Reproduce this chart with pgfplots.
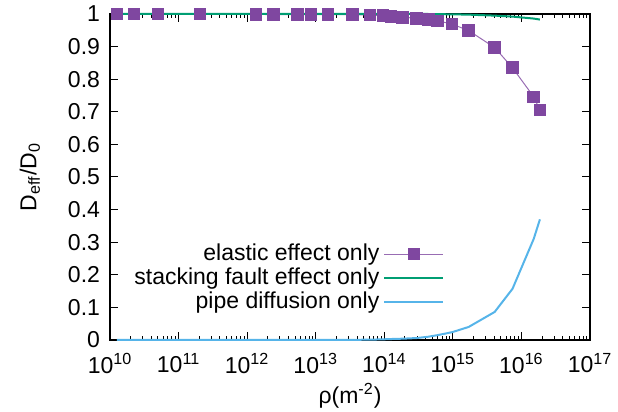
\documentclass[border=0pt]{standalone}
\usepackage{fontspec}
\setmainfont{Liberation Sans}
\usepackage{pgfplots}
\pgfplotsset{compat=1.18}
\definecolor{cpurple}{HTML}{7F47A0}
\definecolor{cgreen}{HTML}{009E73}
\definecolor{cblue}{HTML}{56B4E9}
\begin{document}
\fontsize{11.5}{13.5}\selectfont
\begin{tikzpicture}
\begin{axis}[
  scale only axis,
  width=240pt, height=163pt,
  xmode=log,
  xmin=1e10, xmax=1e17,
  ymin=0, ymax=1,
  axis line style={line width=0.75pt},
  tick style={line width=0.5pt, black},
  major tick length=4pt,
  minor tick length=2pt,
  xtick={1e10,1e11,1e12,1e13,1e14,1e15,1e16,1e17},
  xticklabels={10\textsuperscript{10},10\textsuperscript{11},10\textsuperscript{12},10\textsuperscript{13},10\textsuperscript{14},10\textsuperscript{15},10\textsuperscript{16},10\textsuperscript{17}},
  xticklabel style={yshift=-2.5pt},
  ytick={0,0.1,...,1.01},
  yticklabel style={/pgf/number format/assume math mode=true, /pgf/number format/fixed, xshift=-1pt},
  ylabel={D\textsubscript{eff}/D\textsubscript{0}},
  xlabel={ρ(m\textsuperscript{-2})},
  ylabel style={at={(axis description cs:-0.167,0.5)}, anchor=center},
  xlabel style={at={(axis description cs:0.5,-0.17)}, anchor=center},
  legend style={draw=none, fill=none, at={(axis description cs:0.71,0.32)}, anchor=north east,
    legend cell align=right, row sep=-2pt, font=\fontsize{11.5}{13.5}\selectfont},
  legend plot pos=right,
  legend image code/.code={\draw[mark repeat=2,mark phase=2,#1] plot coordinates {(0pt,0pt) (14.75pt,0pt) (29.5pt,0pt)};},
  clip=false,
]
\addplot[cpurple!80, line width=0.5pt, mark=square*, mark size=2.9pt, mark options={fill=cpurple, draw=cpurple, line width=0pt, solid}] coordinates {
(1.26e10,1.0) (2.24e10,1.0) (5e10,1.0) (2.04e11,1.0) (1.35e12,0.999) (2.4e12,0.998)
(5.37e12,0.998) (8.5e12,0.998) (1.51e13,0.998) (3.47e13,0.998) (6.17e13,0.997)
(9.55e13,0.995) (1.26e14,0.993) (1.86e14,0.990) (2.95e14,0.987) (4.37e14,0.983)
(6.03e14,0.979) (9.77e14,0.969) (1.7e15,0.949) (4.07e15,0.897) (7.41e15,0.835)
(1.51e16,0.746) (1.86e16,0.705)
};
\addlegendentry{elastic effect only}
\addplot[cgreen, line width=1pt, mark=none] coordinates {
(1.26e10,1.0) (2.24e10,1.0) (5e10,1.0) (2.04e11,1.0) (1.35e12,1.0) (2.4e12,1.0)
(5.37e12,1.0) (8.5e12,1.0) (1.51e13,1.0) (3.47e13,1.0) (6.17e13,1.0)
(9.55e13,1.0) (1.26e14,1.0) (1.86e14,1.0) (2.95e14,1.0) (4.37e14,1.0)
(6.03e14,0.9995) (9.77e14,0.999) (1.7e15,0.998) (4.07e15,0.995) (7.41e15,0.992)
(1.51e16,0.986) (1.86e16,0.983)
};
\addlegendentry{stacking fault effect only}
\addplot[cblue, line width=1pt, mark=none] coordinates {
(1.26e10,0.0) (2.24e10,0.0) (5e10,0.0) (2.04e11,0.0) (1.35e12,0.0) (2.4e12,0.0)
(5.37e12,0.0) (8.5e12,0.0) (1.51e13,0.0) (3.47e13,0.0005) (6.17e13,0.001)
(9.55e13,0.002) (1.26e14,0.003) (1.86e14,0.004) (2.95e14,0.006) (4.37e14,0.010)
(6.03e14,0.015) (9.77e14,0.024) (1.7e15,0.040) (4.07e15,0.086) (7.41e15,0.157)
(1.51e16,0.310) (1.86e16,0.370)
};
\addlegendentry{pipe diffusion only}
\end{axis}
\pgfresetboundingbox
\useasboundingbox (-55pt,-36pt) rectangle (254pt,170pt);
\end{tikzpicture}
\end{document}
